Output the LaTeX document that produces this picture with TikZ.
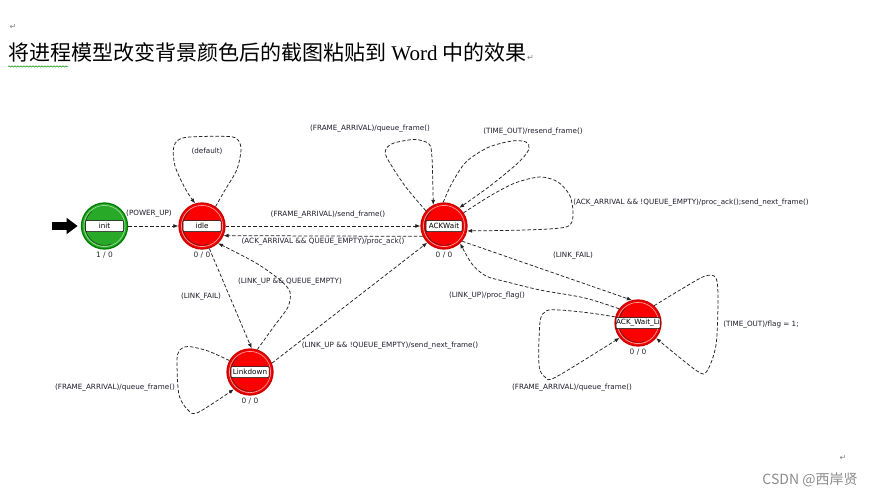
\documentclass[tikz,border=0pt]{standalone}
\usepackage{fontspec}
\setmainfont{DejaVu Sans}
\newfontfamily\cjk{Noto Sans CJK SC}
\newfontfamily\tnr{Liberation Serif}
\usetikzlibrary{arrows.meta,decorations.pathmorphing}
\definecolor{sred}{RGB}{250,0,0}
\definecolor{sredd}{RGB}{205,0,0}
\definecolor{sredl}{RGB}{255,170,170}
\definecolor{sgreen}{RGB}{40,170,40}
\definecolor{sgreend}{RGB}{0,125,0}
\definecolor{sgreenl}{RGB}{160,225,160}
\definecolor{edgec}{RGB}{35,35,35}
\definecolor{labc}{RGB}{30,30,45}
\definecolor{cntc}{RGB}{40,40,50}
\definecolor{markc}{RGB}{130,130,130}
\definecolor{wmc}{RGB}{140,140,140}
\begin{document}
\begin{tikzpicture}[x=1pt,y=-1pt,
  st/.style={circle, minimum size=46pt, inner sep=0pt, fill=sred, draw=sredd, line width=1.3pt,
    path picture={\draw[sredl, line width=0.6pt] (path picture bounding box.center) circle[radius=20.6pt];
      \draw[black!85, line width=0.4pt] ([shift={(130:19.3pt)}]path picture bounding box.center) arc[start angle=130, end angle=290, radius=19.3pt];}},
  stg/.style={circle, minimum size=46pt, inner sep=0pt, fill=sgreen, draw=sgreend, line width=1.3pt,
    path picture={\draw[sgreenl, line width=0.6pt] (path picture bounding box.center) circle[radius=20.6pt];
      \draw[black!85, line width=0.4pt] ([shift={(130:19.3pt)}]path picture bounding box.center) arc[start angle=130, end angle=290, radius=19.3pt];}},
  sbox/.style={draw=black, fill=white, line width=0.5pt, rounded corners=1pt, inner sep=0.6pt,
    minimum height=11pt, minimum width=38pt, font=\fontsize{7.2}{8}\selectfont},
  cnt/.style={font=\fontsize{7.4}{8}\selectfont, text=cntc},
  lbl/.style={font=\fontsize{7.2}{8}\selectfont, text=labc, inner sep=0.5pt},
  tr/.style={draw=edgec, line width=0.75pt, dash pattern=on 3.5pt off 2pt, -{Latex[length=5pt,width=4pt]}},
  mk/.style={font=\fontsize{8}{8}\selectfont, text=markc, inner sep=0pt}
]
\useasboundingbox[fill=white] (0,0) rectangle (872,497);

% title
\node[mk] (m1) at (13,27) {↵};
\node[anchor=base west, inner sep=0pt, font=\cjk\fontsize{21}{21}\selectfont] (title) at (8,61)
  {将进程模型改变背景颜色后的截图粘贴到{\tnr\ Word\ }中的效果};
\node[mk, anchor=base west] (m2) at (title.base east) {↵};
\draw[sgreend!80!green, line width=0.5pt, decorate, decoration={snake, amplitude=0.7pt, segment length=3pt}] (8,66.5) -- (68,66.5);

% states
\node[stg] (init) at (104.5,226) {};
\node[st] (idle) at (202,226) {};
\node[st] (ackwait) at (444,226) {};
\node[st] (linkdown) at (250,372) {};
\node[st] (awl) at (638,323) {};

\node[sbox] (initb) at (init) {init};
\node[sbox] (idleb) at (idle) {idle};
\node[sbox, minimum width=36pt] (ackwaitb) at (ackwait) {ACKWait};
\node[sbox] (linkdownb) at (linkdown) {Linkdown};
\node[sbox, minimum width=44pt, inner sep=0pt] (awlb) at (awl) {ACK\_Wait\_Li};

\node[cnt] (initc) at (104.5,255) {1 / 0};
\node[cnt] (idlec) at (202,255) {0 / 0};
\node[cnt] (ackwaitc) at (444,255) {0 / 0};
\node[cnt] (linkdownc) at (250,401) {0 / 0};
\node[cnt] (awlc) at (638,352) {0 / 0};

% entry arrow
\coordinate (entry) at (51.5,226);
\draw[black, line width=8.4pt, -{Triangle[length=11pt,width=15.5pt]}, shorten >=3.2pt] (entry) -- (init.west);

% transitions
\draw[tr] (init.east) -- (idle.west);
\draw[tr] (idle.0) -- (ackwait.180);
\draw[tr] (ackwait.206) -- (idle.-24);
\draw[tr] (idle.-72) -- (linkdown.86);
\draw[tr] (linkdown.22) -- (ackwait.-135);
\draw[tr] (ackwait.-40) -- (awl.105);

\draw[tr] plot[smooth] coordinates {(idle.55) (225,190) (236.7,170) (241,150) (238,140) (228,136.5) (185,137.5) (174,146) (175,166) (186,190) (idle.107)};
\draw[tr] plot[smooth] coordinates {(linkdown.72) (275,325) (288,307) (290,292) (280,280) (256,263) (idle.-47)};
\draw[tr] plot[smooth] coordinates {(linkdown.151) (208,351) (188,346.5) (179,351) (177,362) (179,395) (188,410) (198,412.5) (linkdown.227)};
\draw[tr] plot[smooth] coordinates {(ackwait.140) (405,186) (387,158) (386,149) (394,143) (415,139.5) (429,144) (432,158) (ackwait.117)};
\draw[tr] plot[smooth] coordinates {(ackwait.92) (452,183) (466,162) (488,147.5) (512,141) (526,142) (529,149) (519,162) (490,186) (ackwait.50)};
\draw[tr] plot[smooth] coordinates {(ackwait.34) (490,196) (515,183) (540,177) (558,182) (570,196) (573,216) (566,227) (525,230) (ackwait.-12)};
\draw[tr] plot[smooth] coordinates {(awl.143) (585,298) (540,290) (506,281.7) (486,276) (472,264) (ackwait.-47)};
\draw[tr] plot[smooth] coordinates {(awl.47) (680,290) (705,276) (716,278) (718,300) (716,345) (707,371) (697,371) (awl.-40)};
\draw[tr] plot[smooth] coordinates {(awl.165) (590,313) (560,310) (546,311) (540,322) (539,365) (545,377) (556,377) (awl.-141)};

% labels
\node[lbl] (l1) at (149,214) {(POWER\_UP)};
\node[lbl] (l2) at (207,151) {(default)};
\node[lbl] (l3) at (328,215) {(FRAME\_ARRIVAL)/send\_frame()};
\node[lbl] (l4) at (323,242) {(ACK\_ARRIVAL \&\& QUEUE\_EMPTY)/proc\_ack()};
\node[lbl] (l5) at (370,129) {(FRAME\_ARRIVAL)/queue\_frame()};
\node[lbl] (l6) at (533,132) {(TIME\_OUT)/resend\_frame()};
\node[lbl] (l7) at (691,203) {(ACK\_ARRIVAL \&\& !QUEUE\_EMPTY)/proc\_ack();send\_next\_frame()};
\node[lbl] (l8) at (201,297) {(LINK\_FAIL)};
\node[lbl] (l9) at (290,282) {(LINK\_UP \&\& QUEUE\_EMPTY)};
\node[lbl] (l10) at (390,346) {(LINK\_UP \&\& !QUEUE\_EMPTY)/send\_next\_frame()};
\node[lbl] (l11) at (115,388) {(FRAME\_ARRIVAL)/queue\_frame()};
\node[lbl] (l12) at (573,256) {(LINK\_FAIL)};
\node[lbl] (l13) at (487,296) {(LINK\_UP)/proc\_flag()};
\node[lbl] (l14) at (761,325) {(TIME\_OUT)/flag = 1;};
\node[lbl] (l15) at (572,388) {(FRAME\_ARRIVAL)/queue\_frame()};

% footer
\node[mk] (m3) at (843,458) {↵};
\node[inner sep=0pt, text=wmc, font=\cjk\fontsize{14}{14}\selectfont] (wm) at (810,480) {CSDN @西岸贤};
\end{tikzpicture}
\end{document}
